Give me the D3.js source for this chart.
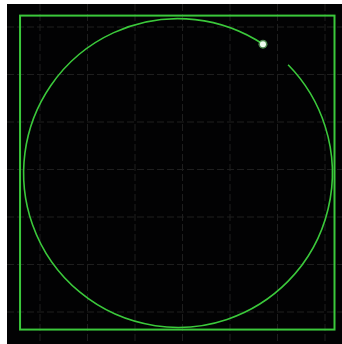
<!DOCTYPE html>
<html><head><meta charset="utf-8">
<script src="https://cdn.jsdelivr.net/npm/d3@7"></script>
<style>html,body{margin:0;padding:0;background:#fff;overflow:hidden}</style>
</head><body>
<svg id="c" width="342" height="344"></svg>
<script>
// Grid tick positions (data units)
const gridX = [-3, -2, -1, 0, 1, 2, 3];
const gridY = [-3, -2, -1, 0, 1, 2, 3];
// Frame rectangle (data units): [xmin, xmax, ymin, ymax]
const frame = [-3.42, 3.2, -3.37, 3.24];
// Circle: center x, center y, radius (data units)
const circleCenter = [-0.095, -0.074];
const circleRadius = 3.25;
// Drawn arc: start and end angles (degrees, clockwise from 12 o'clock)
const arcAngles = [45.5, 393.4];

const svg = d3.select("#c");
const W = 342, H = 344;
const x = d3.scaleLinear().domain([-4, 4]).range([182.5 - 4*47.5, 182.5 + 4*47.5]);
const y = d3.scaleLinear().domain([-4, 4]).range([169.5 + 4*47.5, 169.5 - 4*47.5]);

svg.append("rect").attr("x", 7).attr("y", 4).attr("width", W - 7).attr("height", H - 4).attr("fill", "#020203");

const g = svg.append("g");
g.selectAll("line.vx").data(gridX).join("line").attr("class", "vx")
  .attr("x1", d => x(d)).attr("x2", d => x(d)).attr("y1", 4).attr("y2", H)
  .attr("stroke", "#1e1e1e").attr("stroke-width", 1).attr("stroke-dasharray", "7,3");
g.selectAll("line.hy").data(gridY).join("line").attr("class", "hy")
  .attr("y1", d => y(d)).attr("y2", d => y(d)).attr("x1", 7).attr("x2", W)
  .attr("stroke", "#1e1e1e").attr("stroke-width", 1).attr("stroke-dasharray", "7,3");

svg.append("rect")
  .attr("x", x(frame[0])).attr("y", y(frame[3]))
  .attr("width", x(frame[1]) - x(frame[0])).attr("height", y(frame[2]) - y(frame[3]))
  .attr("fill", "none").attr("stroke", "#3bc83b").attr("stroke-width", 2);

const cx = x(circleCenter[0]), cy = y(circleCenter[1]);
const r = x(circleRadius) - x(0);
const toRad = a => (a - 90) * Math.PI / 180;
const p = d3.path();
p.arc(cx, cy, r, toRad(arcAngles[0]), toRad(arcAngles[1]), false);
svg.append("path").attr("d", p.toString()).attr("fill", "none")
  .attr("stroke", "#3bc83b").attr("stroke-width", 1.6);

const ea = toRad(arcAngles[1]);
svg.append("circle").attr("cx", cx + r*Math.cos(ea)).attr("cy", cy + r*Math.sin(ea))
  .attr("r", 4.5).attr("fill", "#7fe07f").attr("opacity", 0.6);
svg.append("circle").attr("cx", cx + r*Math.cos(ea)).attr("cy", cy + r*Math.sin(ea))
  .attr("r", 3).attr("fill", "#eefcee");
</script>
</body></html>
